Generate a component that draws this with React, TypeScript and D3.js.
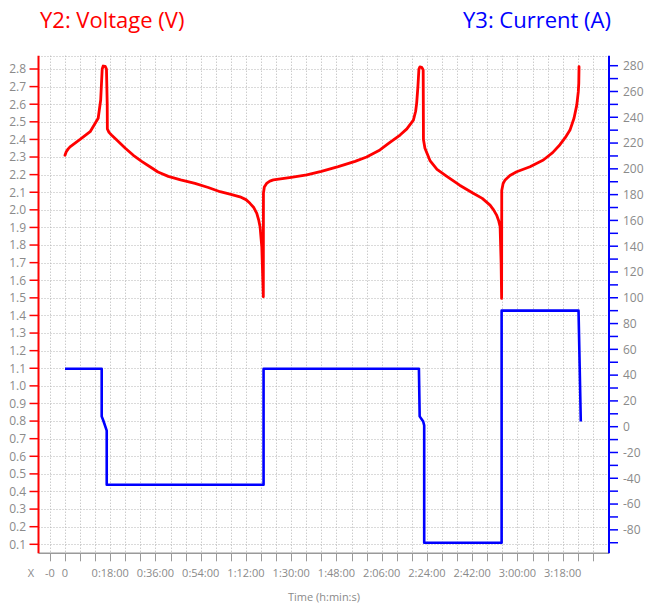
import React, { useEffect, useRef } from 'react';
import * as d3 from 'd3';

// time in minutes, voltage in V
const voltageMinutes = [
  0, 0.5, 1.2, 2.0, 6.0, 10.0, 13.2, 14.2, 14.8, 15.2, 16.0, 16.5, 16.8, 16.85,
  17.5, 18.5, 20.6, 24, 27.2, 30.5, 33.8, 37, 41.1, 46, 51.7, 57, 61.7, 66, 69.6,
  72, 73.6, 75, 76.3, 77.1, 77.6, 78.3, 78.7, 78.9,
  78.95, 79.3, 80.2, 81.5, 82.9, 90, 96.2, 102, 108.7, 115.4, 120, 125.3, 129,
  133.3, 136, 138.6, 139.5, 139.9, 140.4, 140.8, 141.2, 141.9, 142.5,
  142.6, 143.2, 145.2, 148, 151.9, 157, 162.4, 166, 169.1, 170.5, 171.7, 172.5,
  173.1, 173.5, 173.7,
  173.75, 174.3, 175.1, 177, 179.7, 185, 190.3, 194, 196.9, 199, 200.9, 202.5,
  203.6, 204.2, 204.4, 204.5,
];
const voltageValues = [
  2.31, 2.33, 2.345, 2.358, 2.4, 2.444, 2.52, 2.624, 2.8, 2.817, 2.815, 2.8, 2.6, 2.46,
  2.44, 2.425, 2.397, 2.35, 2.31, 2.275, 2.245, 2.215, 2.19, 2.17, 2.15, 2.127, 2.103, 2.088, 2.074,
  2.058, 2.037, 2.015, 1.98, 1.94, 1.904, 1.79, 1.6, 1.506,
  2.094, 2.13, 2.15, 2.163, 2.17, 2.185, 2.198, 2.218, 2.245, 2.275, 2.3, 2.34, 2.38,
  2.425, 2.46, 2.51, 2.56, 2.605, 2.7, 2.8, 2.812, 2.81, 2.795,
  2.4, 2.35, 2.28, 2.23, 2.19, 2.14, 2.094, 2.065, 2.027, 2.0, 1.97, 1.94,
  1.904, 1.7, 1.497,
  2.11, 2.15, 2.17, 2.195, 2.216, 2.245, 2.283, 2.325, 2.37, 2.41, 2.453, 2.52,
  2.595, 2.67, 2.72, 2.813,
];

// time in minutes, current in A
const currentMinutes = [0, 14.6, 14.6, 15.2, 16.6, 16.6, 79.0, 79.0, 140.8, 141.1, 142.5, 142.9, 142.9, 173.7, 173.7, 204.3, 205.2];
const currentValues = [45, 45, 8, 5, -3, -45, -45, 45, 45, 8, 4, 1, -90, -90, 90, 90, 4];

const voltageTicks = d3.range(1, 29).map((d) => d / 10);
const currentMajorTicks = d3.range(-80, 281, 20);
const currentMinorTicks = d3.range(-90, 281, 10);
const timeTicks = d3.range(-6, 211, 6);
const timeLabelTicks = [-6, 0, 18, 36, 54, 72, 90, 108, 126, 144, 162, 180, 198];

const W = 646;
const H = 603;
const left = 38.5;
const right = 609;
const top = 55.7;
const bottom = 553.3;

const fmtTime = (t: number) => {
  if (t < 0) return '-0';
  if (t === 0) return '0';
  const h = Math.floor(t / 60);
  const m = t % 60;
  return `${h}:${String(m).padStart(2, '0')}:00`;
};

const App: React.FC = () => {
  const svgRef = useRef<SVGSVGElement | null>(null);

  useEffect(() => {
    if (!svgRef.current) return;
    const svg = d3.select(svgRef.current);
    svg.selectAll('*').remove();

    const font = "'Open Sans', sans-serif";
    const grey = '#8a8a8a';

    const x = d3.scaleLinear().domain([-10.54, 216.42]).range([left, right]);
    const yV = d3.scaleLinear().domain([0.0489, 2.8756]).range([bottom, top]);
    const yA = d3.scaleLinear().domain([-98.2, 287.76]).range([bottom, top]);

    // grid
    const grid = svg.append('g')
      .attr('stroke', '#b4b4b4')
      .attr('stroke-width', 1)
      .attr('stroke-dasharray', '1,2');
    timeTicks.forEach((t) => {
      grid.append('line')
        .attr('x1', Math.round(x(t)) + 0.5).attr('x2', Math.round(x(t)) + 0.5)
        .attr('y1', top).attr('y2', bottom);
    });
    voltageTicks.forEach((v) => {
      grid.append('line')
        .attr('x1', left).attr('x2', right)
        .attr('y1', Math.round(yV(v)) + 0.5).attr('y2', Math.round(yV(v)) + 0.5);
    });
    grid.append('line')
      .attr('x1', left).attr('x2', right)
      .attr('y1', Math.round(top) + 0.5).attr('y2', Math.round(top) + 0.5);

    // bottom axis
    svg.append('line')
      .attr('x1', left).attr('x2', right)
      .attr('y1', bottom).attr('y2', bottom)
      .attr('stroke', '#9a9a9a').attr('stroke-width', 1.5);
    timeTicks.forEach((t) => {
      svg.append('line')
        .attr('x1', Math.round(x(t)) + 0.5).attr('x2', Math.round(x(t)) + 0.5)
        .attr('y1', bottom).attr('y2', bottom + 8)
        .attr('stroke', '#9a9a9a').attr('stroke-width', 1);
    });
    timeLabelTicks.forEach((t) => {
      svg.append('text')
        .attr('x', x(t)).attr('y', 577)
        .attr('text-anchor', 'middle')
        .style('font-family', font).style('font-size', '11px')
        .attr('fill', grey)
        .text(fmtTime(t));
    });
    svg.append('text')
      .attr('x', 31).attr('y', 577)
      .attr('text-anchor', 'middle')
      .style('font-family', font).style('font-size', '11px')
      .attr('fill', grey)
      .text('X');
    svg.append('text')
      .attr('x', 324).attr('y', 601)
      .attr('text-anchor', 'middle')
      .style('font-family', font).style('font-size', '11px')
      .attr('fill', grey)
      .text('Time (h:min:s)');

    // left axis
    svg.append('line')
      .attr('x1', left).attr('x2', left)
      .attr('y1', top).attr('y2', bottom)
      .attr('stroke', '#ff0000').attr('stroke-width', 2);
    voltageTicks.forEach((v) => {
      svg.append('line')
        .attr('x1', left - 9).attr('x2', left)
        .attr('y1', yV(v)).attr('y2', yV(v))
        .attr('stroke', '#ff0000').attr('stroke-width', 1.5);
      svg.append('text')
        .attr('x', 26).attr('y', yV(v))
        .attr('dy', '0.36em')
        .attr('text-anchor', 'end')
        .style('font-family', font).style('font-size', '12px')
        .attr('fill', grey)
        .text(v.toFixed(1));
    });

    // right axis
    svg.append('line')
      .attr('x1', right).attr('x2', right)
      .attr('y1', top).attr('y2', bottom)
      .attr('stroke', '#0000ff').attr('stroke-width', 2);
    currentMinorTicks.forEach((a) => {
      svg.append('line')
        .attr('x1', right).attr('x2', right + 9)
        .attr('y1', yA(a)).attr('y2', yA(a))
        .attr('stroke', '#0000ff').attr('stroke-width', 1.5);
    });
    currentMajorTicks.forEach((a) => {
      svg.append('text')
        .attr('x', 623).attr('y', yA(a))
        .attr('dy', '0.36em')
        .attr('text-anchor', 'start')
        .style('font-family', font).style('font-size', '12px')
        .attr('fill', grey)
        .text(String(a));
    });

    // series
    const current = currentMinutes.map((t, i) => [t, currentValues[i]] as [number, number]);
    const voltage = voltageMinutes.map((t, i) => [t, voltageValues[i]] as [number, number]);

    svg.append('path')
      .datum(current)
      .attr('d', d3.line<[number, number]>().x((d) => x(d[0])).y((d) => yA(d[1])))
      .attr('fill', 'none')
      .attr('stroke', '#0000ff')
      .attr('stroke-width', 2.6)
      .attr('stroke-linejoin', 'round');

    svg.append('path')
      .datum(voltage)
      .attr('d', d3.line<[number, number]>().x((d) => x(d[0])).y((d) => yV(d[1])))
      .attr('fill', 'none')
      .attr('stroke', '#ff0000')
      .attr('stroke-width', 2.8)
      .attr('stroke-linejoin', 'round')
      .attr('stroke-linecap', 'round');

    // headings
    svg.append('text')
      .attr('x', 40).attr('y', 28)
      .style('font-family', font).style('font-size', '22px')
      .attr('fill', '#ff0000')
      .text('Y2: Voltage (V)');
    svg.append('text')
      .attr('x', 611).attr('y', 28)
      .attr('text-anchor', 'end')
      .style('font-family', font).style('font-size', '22px')
      .attr('fill', '#0000ff')
      .text('Y3: Current (A)');
  }, []);

  return (
    <svg
      ref={svgRef}
      width={W}
      height={H}
      style={{ position: 'absolute', left: 0, top: 0, display: 'block', background: '#fff' }}
    />
  );
};

export default App;
